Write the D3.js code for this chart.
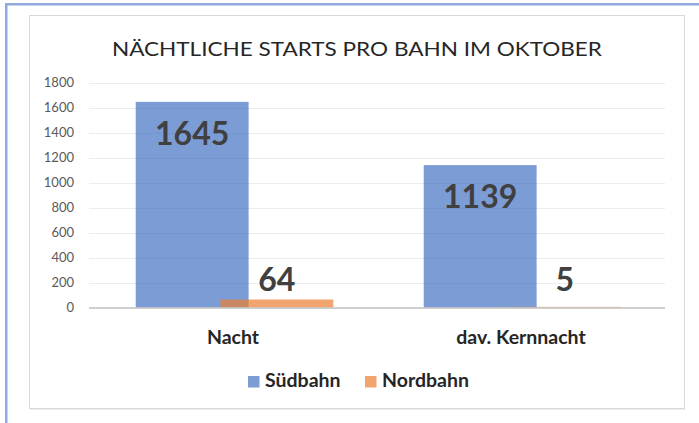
<!DOCTYPE html>
<html><head><meta charset="utf-8">
<script src="https://cdn.jsdelivr.net/npm/d3@7"></script>
<style>html,body{margin:0;padding:0;background:#fff;}svg{display:block;}</style>
</head><body>
<script>
const title = "NÄCHTLICHE STARTS PRO BAHN IM OKTOBER";
const categories = ["Nacht", "dav. Kernnacht"];
const seriesNames = ["Südbahn", "Nordbahn"];
const suedbahn = [1645, 1139];
const nordbahn = [64, 5];
const yTicks = [0, 200, 400, 600, 800, 1000, 1200, 1400, 1600, 1800];

const W = 699, H = 423;
const svg = d3.select("body").append("svg").attr("width", W).attr("height", H);
const font = "Lato, 'Open Sans', sans-serif";

// outer blue frame
svg.append("rect").attr("x", 5).attr("y", 3).attr("width", 2.5).attr("height", H - 3).attr("fill", "#8FAADC");
svg.append("rect").attr("x", 5).attr("y", 3).attr("width", W - 5).attr("height", 2.5).attr("fill", "#8FAADC");
// chart box
svg.append("rect").attr("x", 29.5).attr("y", 15.5).attr("width", 655).attr("height", 393)
  .attr("fill", "#fff").attr("stroke", "#d9d9d9").attr("stroke-width", 1);
svg.append("line").attr("x1", 30).attr("x2", 685).attr("y1", 409.5).attr("y2", 409.5).attr("stroke", "#ececec");

// title
svg.append("text").attr("x", 357).attr("y", 56).attr("text-anchor", "middle")
  .attr("font-family", font).attr("font-size", 20).attr("fill", "#262626")
  .attr("textLength", 490).attr("lengthAdjust", "spacingAndGlyphs").text(title);

const x0 = d3.scaleBand().domain(categories).range([89, 665]).paddingInner(0).paddingOuter(0);
const y = d3.scaleLinear().domain([0, 1800]).range([307.5, 82.5]);

// gridlines
svg.append("g").selectAll("line").data(yTicks.filter(d => d > 0)).join("line")
  .attr("x1", 89).attr("x2", 665).attr("y1", d => Math.round(y(d)) + 0.5).attr("y2", d => Math.round(y(d)) + 0.5)
  .attr("stroke", "#ececec").attr("stroke-width", 1);

// y axis labels
const yAxis = d3.axisLeft(y).tickValues(yTicks).tickFormat(d3.format("d")).tickSize(0).tickPadding(0);
const gy = svg.append("g").attr("transform", "translate(74,0)").call(yAxis);
gy.select(".domain").remove();
gy.selectAll("text").attr("font-family", font).attr("font-size", 13).attr("fill", "#595959");

// bars
const barW = x0.bandwidth() * 0.392;
const overlap = barW * 0.25;
const groupW = barW * 2 - overlap;
const seriesData = [
  {name: seriesNames[0], values: suedbahn, color: "#4472C4", offset: 0},
  {name: seriesNames[1], values: nordbahn, color: "#ED7D31", offset: barW - overlap}
];
const gx = c => x0(c) + (x0.bandwidth() - groupW) / 2 + 1.5;
seriesData.forEach(s => {
  svg.append("g").selectAll("rect").data(categories).join("rect")
    .attr("x", c => gx(c) + s.offset)
    .attr("y", (c, i) => y(s.values[i]))
    .attr("width", barW)
    .attr("height", (c, i) => y(0) - y(s.values[i]))
    .attr("fill", s.color).attr("fill-opacity", 0.7);
});

// baseline
svg.append("line").attr("x1", 89).attr("x2", 665).attr("y1", y(0) + 0.5).attr("y2", y(0) + 0.5)
  .attr("stroke", "#bfbfbf").attr("stroke-width", 1.5);

// data labels
seriesData.forEach((s, si) => {
  svg.append("g").selectAll("text").data(categories).join("text")
    .attr("x", c => gx(c) + s.offset + barW / 2)
    .attr("y", (c, i) => si === 0 ? y(s.values[i]) + 43 : y(0) - 17)
    .attr("text-anchor", "middle").attr("font-family", font).attr("font-weight", "bold")
    .attr("font-size", 32).attr("fill", "#404040")
    .text((c, i) => s.values[i]);
});

// category labels
svg.append("g").selectAll("text").data(categories).join("text")
  .attr("x", c => x0(c) + x0.bandwidth() / 2).attr("y", 344)
  .attr("text-anchor", "middle").attr("font-family", font).attr("font-weight", "bold")
  .attr("font-size", 19.5).attr("fill", "#262626").text(c => c);

// legend
const legendX = [248, 365];
seriesData.forEach((s, i) => {
  svg.append("rect").attr("x", legendX[i]).attr("y", 376).attr("width", 11.5).attr("height", 11.5)
    .attr("fill", s.color).attr("fill-opacity", 0.7);
  svg.append("text").attr("x", legendX[i] + 17).attr("y", 387)
    .attr("font-family", font).attr("font-weight", "bold").attr("font-size", 19.5)
    .attr("fill", "#262626").text(s.name);
});
</script>
</body></html>
